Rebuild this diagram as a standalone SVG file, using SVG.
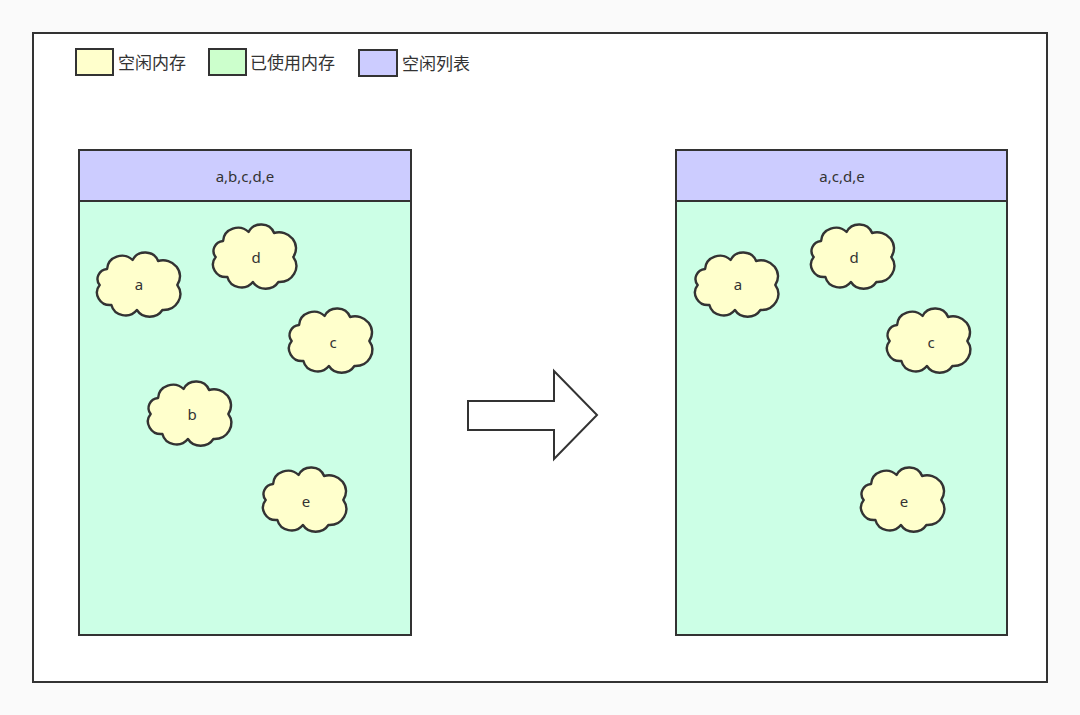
<svg xmlns="http://www.w3.org/2000/svg" xmlns:xlink="http://www.w3.org/1999/xlink" width="1080" height="715" viewBox="0 0 1080 715">
<style>
.ln{stroke:#333;stroke-width:2;}
.cloud{fill:#ffffcc;stroke:#333;stroke-width:2.4;stroke-linejoin:round;}
.t{font-family:"Noto Sans","Noto Sans CJK SC",sans-serif;fill:#333;text-anchor:middle;}
.lg{font-family:"Noto Sans CJK SC","Noto Sans",sans-serif;fill:#333;font-size:17px;}
</style>
<defs>
<path id="cl" d="M10.1,18 A14.9,14 0 0 1 35.6,9 A13.8,13 0 0 1 61.1,10 A17,16 0 0 1 80.3,34 A17,16 0 0 1 65.4,59 A14.9,14 0 0 1 39.9,59 A14.4,13.5 0 0 1 14.4,54 A13.3,12.5 0 0 1 2.7,34 A10.6,10 0 0 1 10.1,18 Z"/>
</defs>
<rect x="0" y="0" width="1080" height="715" fill="#fafafa"/>
<rect id="frame" x="33" y="33" width="1014" height="649" fill="#ffffff" class="ln"/>
<g id="legend">
<rect x="76" y="49" width="37" height="26" fill="#ffffcc" class="ln"/>
<text class="lg" x="118" y="69">空闲内存</text>
<rect x="209" y="49" width="37" height="26" fill="#ccffcc" class="ln"/>
<text class="lg" x="250" y="69">已使用内存</text>
<rect x="359" y="50" width="38" height="26" fill="#ccccff" class="ln"/>
<text class="lg" x="402" y="70">空闲列表</text>
</g>
<g id="left-panel">
<rect x="79" y="201" width="332" height="434" fill="#ccffe6" class="ln"/>
<rect x="79" y="150" width="332" height="51" fill="#ccccff" class="ln"/>
<text class="t" x="245" y="182" font-size="15">a,b,c,d,e</text>
</g>
<g id="right-panel">
<rect x="676" y="201" width="331" height="434" fill="#ccffe6" class="ln"/>
<rect x="676" y="150" width="331" height="51" fill="#ccccff" class="ln"/>
<text class="t" x="842" y="182" font-size="15">a,c,d,e</text>
</g>
<g id="L-a"><use xlink:href="#cl" class="cloud" transform="translate(97,251)"/><text class="t" x="139" y="290" font-size="15">a</text></g>
<g id="L-d"><use xlink:href="#cl" class="cloud" transform="translate(213,223)"/><text class="t" x="256" y="263" font-size="15">d</text></g>
<g id="L-c"><use xlink:href="#cl" class="cloud" transform="translate(289,307)"/><text class="t" x="333" y="348" font-size="15">c</text></g>
<g id="L-b"><use xlink:href="#cl" class="cloud" transform="translate(148,380)"/><text class="t" x="192" y="420" font-size="15">b</text></g>
<g id="L-e"><use xlink:href="#cl" class="cloud" transform="translate(263,466)"/><text class="t" x="306" y="507" font-size="15">e</text></g>
<g id="R-a"><use xlink:href="#cl" class="cloud" transform="translate(695,251)"/><text class="t" x="738" y="290" font-size="15">a</text></g>
<g id="R-d"><use xlink:href="#cl" class="cloud" transform="translate(811,223)"/><text class="t" x="854" y="263" font-size="15">d</text></g>
<g id="R-c"><use xlink:href="#cl" class="cloud" transform="translate(887,307)"/><text class="t" x="931" y="348" font-size="15">c</text></g>
<g id="R-e"><use xlink:href="#cl" class="cloud" transform="translate(861,466)"/><text class="t" x="904" y="507" font-size="15">e</text></g>
<g id="connectors">
<polygon points="468,401 554,401 554,371 597,415 554,459 554,430 468,430" fill="#ffffff" class="ln"/>
</g>
</svg>
